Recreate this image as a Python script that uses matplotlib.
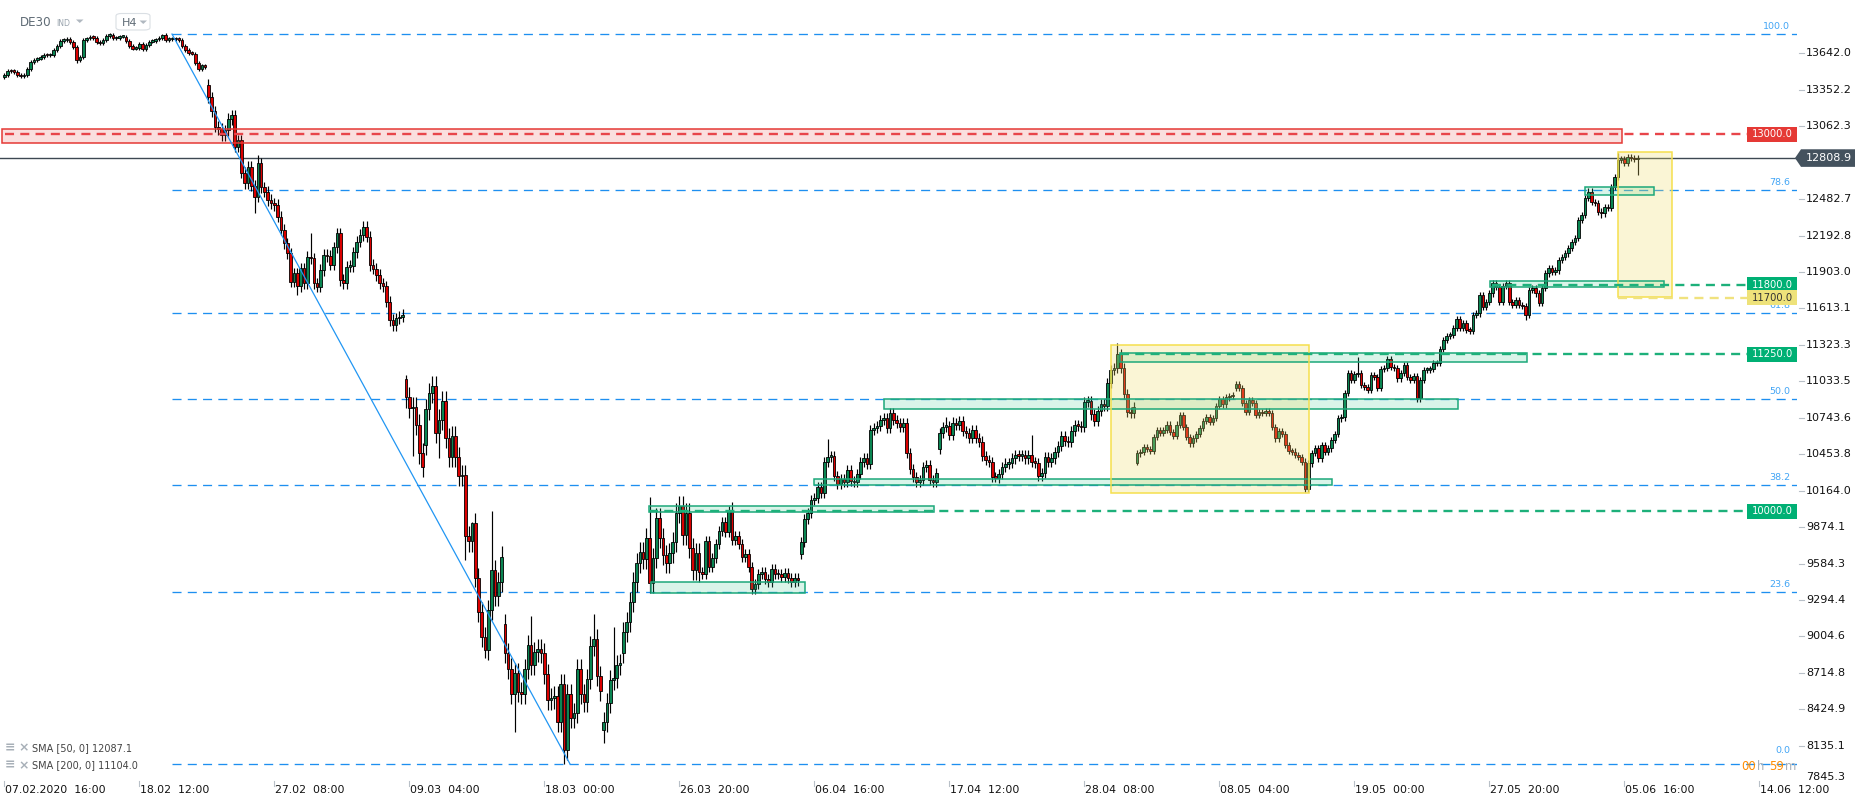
import matplotlib
matplotlib.use("Agg")
import matplotlib.pyplot as plt
from matplotlib.patches import Rectangle, Polygon, FancyBboxPatch

plt.rcParams['font.family'] = ['DejaVu Sans']
plt.rcParams['lines.scale_dashes'] = False

# ---------------- DATA (H4 closes) ----------------
close_feb = [13470, 13505, 13500, 13495, 13469, 13460, 13470, 13520, 13570, 13590,
             13600, 13615, 13630, 13625, 13630, 13670, 13700, 13740, 13745, 13755,
             13730, 13695, 13590, 13610, 13745, 13760, 13770, 13765, 13730, 13720,
             13745, 13780, 13785, 13760, 13765, 13775, 13775, 13740, 13700, 13680,
             13685, 13715, 13675, 13710, 13735, 13740, 13752, 13765, 13790, 13750,
             13755, 13760, 13755, 13750, 13700, 13670, 13645, 13640, 13565, 13515,
             13545, 13530]
close_late_feb = [13292, 13180, 13059, 13040, 12990, 13030, 13120, 13150, 12900, 12950,
                  12693, 12608, 12740, 12590, 12502, 12767, 12575, 12542, 12475, 12450,
                  12436, 12343, 12240, 12131, 12051, 11826, 11892, 11790, 11932, 11813,
                  12025, 12012, 11813, 11786, 11919, 12038, 12030, 11960, 12100, 12210,
                  11839, 11813, 11945, 11950, 12060, 12144, 12197, 12263, 12184, 11958,
                  11930, 11879, 11813, 11790, 11667, 11521, 11481, 11534, 11548, 11561]
close_mar = [10910, 10820, 10830, 10690, 10460, 10350, 10810, 10938, 10996, 10625,
             10730, 10876, 10580, 10430, 10600, 10430, 10280, 10290, 9800, 9760,
             9905, 9467, 9200, 9003, 8900, 9215, 9533, 9327, 9440, 9640,
             8870, 8750, 8547, 8712, 8560, 8547, 8743, 8937, 8778, 8884,
             8902, 8870, 8706, 8500, 8512, 8530, 8327, 8630, 8102, 8547,
             8353, 8393, 8743, 8547, 8485, 8664, 8929, 8982, 8690, 8573,
             8327, 8473, 8658, 8672, 8778, 8786, 9043, 9122, 9281, 9440,
             9586, 9679, 9620, 9785, 9427, 9626, 9944, 9785, 9652, 9591,
             9666, 9758, 9984, 10042, 9811, 9984, 9705, 9533, 9671, 9520]
close_apr = [9500, 9766, 9560, 9626, 9740, 9846, 9917, 9838, 10005, 9772,
             9800, 9740, 9640, 9660, 9560, 9380, 9420, 9500, 9520, 9460,
             9440, 9540, 9500, 9505, 9480, 9510, 9470, 9440, 9470, 9450,
             9759, 9936, 9984, 10090, 10103, 10196, 10143, 10395, 10434, 10440,
             10280, 10220, 10260, 10230, 10330, 10240, 10230, 10300, 10395, 10420,
             10380, 10650, 10660, 10680, 10725, 10740, 10660, 10784, 10726, 10705,
             10673, 10705, 10466, 10334, 10275, 10236, 10249, 10350, 10368, 10249,
             10236, 10307, 10620, 10673, 10680, 10607, 10700, 10690, 10720, 10640,
             10620, 10580, 10650, 10580, 10555, 10440, 10405, 10390, 10275, 10265,
             10300, 10350, 10380, 10385, 10420, 10450, 10440, 10450, 10420, 10448,
             10390, 10385, 10280, 10305, 10430, 10390, 10420, 10470, 10520, 10600,
             10560, 10550, 10640, 10690, 10680, 10668, 10870, 10875, 10770, 10720,
             10800, 10850, 10840, 11020, 11125, 11140, 11250, 11140, 10930, 10790,
             10780, 10830]
close_may_jun = [10460, 10470, 10510, 10495, 10480, 10590, 10645, 10620, 10645, 10690,
                 10633, 10600, 10690, 10766, 10673, 10593, 10540, 10580, 10615, 10660,
                 10720, 10747, 10713, 10740, 10837, 10890, 10850, 10905, 10915, 10920,
                 11012, 10978, 10859, 10792, 10885, 10859, 10766, 10792, 10780, 10800,
                 10779, 10673, 10580, 10640, 10615, 10530, 10480, 10475, 10450, 10430,
                 10395, 10180, 10381, 10461, 10501, 10420, 10527, 10474, 10500, 10567,
                 10615, 10739, 10747, 10938, 11102, 11044, 11090, 11100, 11004, 10990,
                 10965, 11080, 11070, 10980, 11129, 11137, 11208, 11145, 11137, 11057,
                 11100, 11163, 11068, 11044, 11078, 10898, 11044, 11124, 11124, 11129,
                 11177, 11182, 11288, 11362, 11394, 11402, 11455, 11526, 11455, 11500,
                 11442, 11436, 11561, 11574, 11720, 11627, 11667, 11733, 11818, 11786,
                 11667, 11790, 11813, 11667, 11640, 11680, 11640, 11632, 11561, 11760,
                 11773, 11733, 11659, 11773, 11892, 11932, 11906, 11915, 11998, 12020,
                 12051, 12091, 12144, 12171, 12316, 12356, 12489, 12542, 12462, 12449,
                 12383, 12369, 12417, 12410, 12581, 12661, 12794, 12799, 12772, 12820,
                 12807, 12799, 12808.9]
first_open = 13450
gap_opens = {62: 13390, 122: 11050, 128: 10527, 152: 9104, 182: 8260, 188: 8870,
             242: 9660, 284: 10493, 344: 10385, 374: 10978}
highs_read = {48: 13795, 77: 12830, 93: 12210, 122: 11085, 142: 9917, 148: 10000,
              151: 9724, 160: 9167, 179: 9180, 185: 9080, 196: 10116, 221: 10077,
              250: 10572, 286: 10752, 288: 10752, 312: 10607, 338: 11336, 411: 11224,
              490: 12850, 493: 12845, 496: 12830}
lows_read = {22: 13567, 76: 12370, 89: 11720, 122: 10820, 124: 10440, 132: 10420,
             140: 9610, 143: 9400, 146: 8830, 155: 8248, 170: 7991, 182: 8155,
             278: 10190, 301: 10235, 344: 10370, 395: 10156, 429: 10872, 462: 11521,
             485: 12329, 496: 12674}
# typical wick length (points) per period: (first bar, last bar, points)
wick_by_period = [(0, 61, 15), (62, 121, 45), (122, 211, 80), (212, 343, 40), (344, 496, 25)]

x_tick_bars = [0, 41, 82, 123, 164, 205, 246, 287, 328, 369, 410, 451, 492, 533]
x_tick_labels = ["07.02.2020  16:00", "18.02  12:00", "27.02  08:00", "09.03  04:00",
                 "18.03  00:00", "26.03  20:00", "06.04  16:00", "17.04  12:00",
                 "28.04  08:00", "08.05  04:00", "19.05  00:00", "27.05  20:00",
                 "05.06  16:00", "14.06  12:00"]
y_tick_values = [13642.0, 13352.2, 13062.3, 12482.7, 12192.8, 11903.0, 11613.1, 11323.3,
                 11033.5, 10743.6, 10453.8, 10164.0, 9874.1, 9584.3, 9294.4, 9004.6,
                 8714.8, 8424.9, 8135.1]
y_tick_bottom = 7845.3

fib_high, fib_low = 13795, 7991
fib_levels = [100.0, 78.6, 61.8, 50.0, 38.2, 23.6, 0.0]
last_price = 12808.9
level_red = 13000.0
levels_green = [11800.0, 11250.0, 10000.0]
level_yellow = 11700.0
sma_texts = ["SMA [50, 0] 12087.1", "SMA [200, 0] 11104.0"]

# ---------------- FIGURE ----------------
W, H = 1866, 806
fig = plt.figure(figsize=(W / 100, H / 100), dpi=100)
AX_R, AX_B = 1797, 783
ax = fig.add_axes([0, 1 - AX_B / H, AX_R / W, AX_B / H])
X0_PX, BAR_PX = 4.3, 3.293
def px2i(px):
    return (px - X0_PX) / BAR_PX
Y_TOP, Y_BOT = 14065.8, 7839.6
PPX = (Y_TOP - Y_BOT) / AX_B   # price per pixel
ax.set_xlim(px2i(0), px2i(AX_R))
ax.set_ylim(Y_BOT, Y_TOP)
ax.axis('off')

def ftext(xpx, ypx, s, **kw):
    fig.text(xpx / W, 1 - ypx / H, s, **kw)

closes = close_feb + close_late_feb + close_mar + close_apr + close_may_jun
n = len(closes)
opens = [first_open] + closes[:-1]
for k, v in gap_opens.items():
    opens[k] = v
wick = [0] * n
for a, b, w in wick_by_period:
    for k in range(a, b + 1):
        wick[k] = w
highs = [max(o, c) + w for o, c, w in zip(opens, closes, wick)]
lows = [min(o, c) - w for o, c, w in zip(opens, closes, wick)]
for k, v in highs_read.items():
    highs[k] = v
for k, v in lows_read.items():
    lows[k] = v

xs = list(range(n))
GREEN, RED = '#0A8552', '#DA0000'
cols = [GREEN if c >= o else RED for o, c in zip(opens, closes)]
bottoms = [min(o, c) for o, c in zip(opens, closes)]
heights = [max(abs(c - o), 12) for o, c in zip(opens, closes)]
ax.vlines(xs, lows, highs, color='black', linewidth=0.85, zorder=3)
ax.bar(xs, heights, bottom=bottoms, width=0.8, color=cols, edgecolor='black',
       linewidth=0.6, zorder=3.2)

# ---------------- Fibonacci ----------------
FIB = '#1E8FF0'
fib_start = px2i(172)
for lv in fib_levels:
    p = fib_low + (fib_high - fib_low) * lv / 100.0
    ax.plot([fib_start, px2i(AX_R)], [p, p], color=FIB, lw=0.95, dashes=(6.5, 4.5), zorder=1)
    dy = 8.5 if lv == 0.0 else 3.0
    ax.text(px2i(1790), p + dy * PPX, f"{lv:.1f}", color='#42A5F5', fontsize=6.8,
            ha='right', va='bottom', zorder=2)
ax.plot([px2i(172), px2i(570)], [fib_high, fib_low], color='#2196F3', lw=0.9, zorder=5)

# current price line
ax.axhline(last_price, color='#3D4852', lw=1.0, zorder=2)

# ---------------- zones ----------------
def zone(x1px, x2px, p1, p2, face, fa, edge):
    ax.add_patch(Rectangle((px2i(x1px), p1), px2i(x2px) - px2i(x1px), p2 - p1,
                           facecolor=face, alpha=fa, edgecolor='none', zorder=4))
    ax.add_patch(Rectangle((px2i(x1px), p1), px2i(x2px) - px2i(x1px), p2 - p1,
                           facecolor='none', edgecolor=edge, lw=1.1, zorder=4.1))

ZG_F, ZG_E = '#2EC28A', '#1DA87A'
zone(2, 1622, 12932, 13038, '#E53935', 0.16, '#E53935')
zone(651, 805, 9348, 9435, ZG_F, 0.18, ZG_E)
zone(649, 934, 9997, 10045, ZG_F, 0.18, ZG_E)
zone(814, 1332, 10206, 10254, ZG_F, 0.18, ZG_E)
zone(884, 1458, 10811, 10890, ZG_F, 0.18, ZG_E)
zone(1120, 1527, 11190, 11255, ZG_F, 0.18, ZG_E)
zone(1490, 1664, 11786, 11834, ZG_F, 0.18, ZG_E)
zone(1585, 1654, 12518, 12576, ZG_F, 0.18, ZG_E)
zone(1111, 1309, 10143, 11323, '#EEDC6A', 0.28, '#F5DF4D')
zone(1618, 1672, 11702, 12860, '#EEDC6A', 0.28, '#F5DF4D')

# ---------------- level lines + labels ----------------
LBL_X1, LBL_X2 = 1747, 1797
def level(p, x_start_px, color, label_bg, text_color):
    ax.plot([px2i(x_start_px), px2i(LBL_X1)], [p, p], color=color, lw=1.7,
            dashes=(6.5, 4.5), zorder=4.5)
    h = 15 * PPX
    ax.add_patch(Rectangle((px2i(LBL_X1), p - h / 2), px2i(LBL_X2) - px2i(LBL_X1), h,
                           facecolor=label_bg, edgecolor='none', zorder=6, clip_on=False))
    ax.text(px2i(LBL_X1 + 25), p, f"{p:.1f}", color=text_color, fontsize=7.2,
            ha='center', va='center', zorder=7)

level(level_red, 5, '#E8454A', '#E53935', 'white')
level(levels_green[0], 1492, '#1DB07A', '#00B074', 'white')
level(level_yellow, 1618, '#F0E27E', '#EEE27A', '#333333')
level(levels_green[1], 1120, '#1DB07A', '#00B074', 'white')
level(levels_green[2], 649, '#1DB07A', '#00B074', 'white')

# current price tag
hh = 8.8 * PPX
tag = Polygon([(px2i(1795), last_price), (px2i(1801), last_price + hh),
               (px2i(1855), last_price + hh), (px2i(1855), last_price - hh),
               (px2i(1801), last_price - hh)], closed=True, facecolor='#44525E',
              edgecolor='none', zorder=8, clip_on=False)
ax.add_patch(tag)
ax.text(px2i(1806), last_price, f"{last_price:.1f}", color='white', fontsize=8,
        ha='left', va='center', zorder=9, clip_on=False)

# ---------------- right axis ----------------
for v in y_tick_values:
    ax.plot([px2i(1799), px2i(1804)], [v, v], color='#B8C0C8', lw=0.8, clip_on=False)
    ax.text(px2i(1806), v, f"{v:.1f}", fontsize=8, color='#111111', ha='left',
            va='center', clip_on=False)
ftext(1806, 777, f"{y_tick_bottom:.1f}", fontsize=8, color='#111111', ha='left', va='center')

# ---------------- bottom axis ----------------
for b, lab in zip(x_tick_bars, x_tick_labels):
    xp = X0_PX + b * BAR_PX
    fig.add_artist(plt.Line2D([xp / W, xp / W], [1 - 781 / H, 1 - 786 / H],
                              color='#B8C0C8', lw=0.8))
    ftext(xp + 0.5, 790, lab, fontsize=7.8, color='#111111', ha='left', va='center')

# ---------------- header ----------------
ftext(20, 23, "DE30", fontsize=8.6, color='#5F6B75', ha='left', va='center')
ftext(56, 23, "IND", fontsize=5.6, color='#9AA4AE', ha='left', va='center')
fig.add_artist(Polygon([(76 / W, 1 - 19.5 / H), (83.5 / W, 1 - 19.5 / H), (79.75 / W, 1 - 23 / H)],
                       closed=True, facecolor='#B0B8C0', edgecolor='none',
                       transform=fig.transFigure))
fig.add_artist(FancyBboxPatch((116 / W, 1 - 30 / H), 34 / W, 16.5 / H,
                              boxstyle='round,pad=0,rounding_size=0.003',
                              facecolor='white', edgecolor='#DADFE4', lw=0.8,
                              transform=fig.transFigure))
ftext(121.5, 23, "H4", fontsize=8, color='#5F6B75', ha='left', va='center')
fig.add_artist(Polygon([(139.5 / W, 1 - 20.5 / H), (147 / W, 1 - 20.5 / H), (143.25 / W, 1 - 24 / H)],
                       closed=True, facecolor='#B0B8C0', edgecolor='none',
                       transform=fig.transFigure))

# ---------------- SMA legend ----------------
for yy, s in zip([748, 765.5], sma_texts):
    ftext(5, yy, "\u2261", fontsize=9, color='#A8B0B8', ha='left', va='center', fontweight='bold')
    ftext(18, yy, "\u00d7", fontsize=9, color='#A8B0B8', ha='left', va='center', fontweight='bold')
    ftext(31.5, yy, s, fontsize=7, color='#444444', ha='left', va='center')

# countdown
ftext(1741, 766, "00", fontsize=8.4, color='#FF8C00', ha='left', va='center')
ftext(1756.5, 766, "h", fontsize=8.4, color='#A8B0B8', ha='left', va='center')
ftext(1769, 766, "59", fontsize=8.4, color='#FF8C00', ha='left', va='center')
ftext(1785, 766, "m", fontsize=8.4, color='#A8B0B8', ha='left', va='center')

fig.savefig('out.png', dpi=100)
